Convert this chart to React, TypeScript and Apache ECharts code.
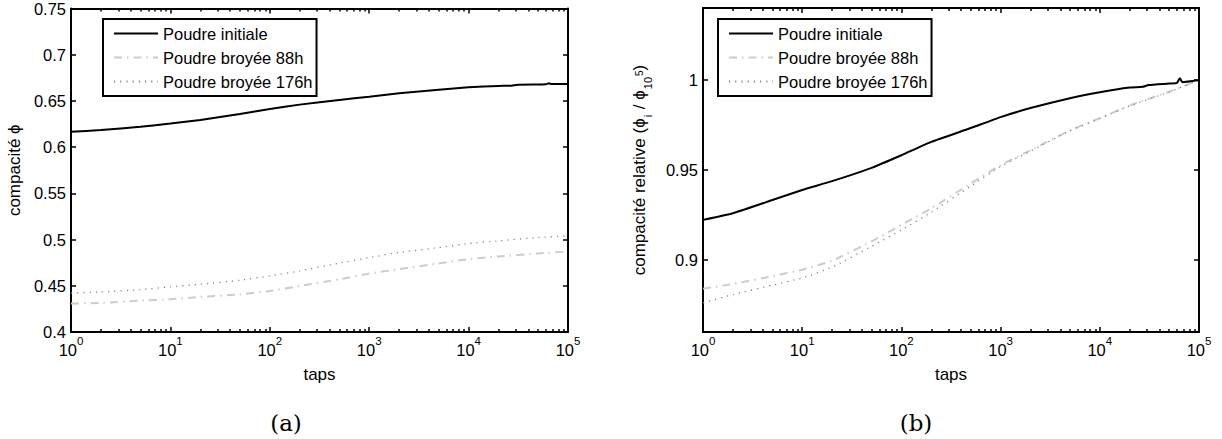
import React, { useEffect, useRef } from "react";
import * as echarts from "echarts";

const seriesNames = ["Poudre initiale", "Poudre broyée 88h", "Poudre broyée 176h"];

const tapsInit = [1, 2, 5, 10, 20, 50, 100, 200, 500, 1000, 2000, 5000, 10000, 20000, 27000, 31000, 50000, 60000, 64000, 68000, 100000];
const tapsMilled = [1, 2, 5, 10, 20, 50, 100, 200, 500, 1000, 2000, 5000, 10000, 20000, 50000, 100000];

// (a) compacité
const compInit = [0.6167, 0.6185, 0.6221, 0.6255, 0.6294, 0.6359, 0.6413, 0.646, 0.651, 0.6546, 0.6582, 0.6622, 0.6647, 0.6662, 0.6665, 0.6675, 0.6678, 0.668, 0.669, 0.6682, 0.6684];
const comp88 = [0.4307, 0.4315, 0.434, 0.4354, 0.4379, 0.4408, 0.4444, 0.4498, 0.4571, 0.4632, 0.468, 0.4742, 0.4788, 0.4818, 0.485, 0.487];
const comp176 = [0.4422, 0.4433, 0.4458, 0.4488, 0.4517, 0.456, 0.4607, 0.4661, 0.4745, 0.4805, 0.486, 0.4913, 0.4957, 0.4986, 0.5022, 0.504];

// (b) compacité relative
const relInit = [0.9223, 0.926, 0.9333, 0.9389, 0.9438, 0.9512, 0.9582, 0.9656, 0.9733, 0.9794, 0.9844, 0.9899, 0.9932, 0.9958, 0.9962, 0.9972, 0.998, 0.9984, 1.001, 0.9988, 1.0];
const rel88 = [0.8841, 0.8867, 0.891, 0.8946, 0.8996, 0.9103, 0.9195, 0.9287, 0.9425, 0.9527, 0.961, 0.972, 0.9788, 0.9858, 0.9935, 1.0];
const rel176 = [0.8762, 0.8808, 0.886, 0.89, 0.896, 0.9076, 0.9167, 0.9265, 0.941, 0.952, 0.9605, 0.9718, 0.9786, 0.9856, 0.9933, 1.0];

const yTicksRel = [0.9, 0.95, 1];

const FONT = "Liberation Sans";
const pair = (xs: number[], ys: number[]) => xs.map((x, i) => [x, ys[i]]);

export default function App() {
  const ref = useRef<HTMLDivElement>(null);
  useEffect(() => {
    if (!ref.current) return;
    const chart = echarts.init(ref.current, null, { renderer: "svg" });

    const axisLineStyle = { lineStyle: { color: "#000", width: 2 } };
    const xLabel = {
      formatter: (v: number) => `{b|10}{s|${Math.round(Math.log10(v))}}`,
      margin: 9,
      rich: {
        b: { fontSize: 16.5, fontFamily: FONT, color: "#000", lineHeight: 17, verticalAlign: "bottom" },
        s: { fontSize: 11.5, fontFamily: FONT, color: "#000", lineHeight: 12, padding: [0, 0, 11, 0], verticalAlign: "bottom" },
      },
    };
    const mkX = (gridIndex: number, bottom: boolean) => ({
      type: "log",
      logBase: 10,
      gridIndex,
      min: 1,
      max: 100000,
      position: bottom ? "bottom" : "top",
      axisLine: axisLineStyle,
      axisTick: { show: true, inside: true, length: 5, lineStyle: { color: "#000", width: 1.5 } },
      minorTick: { show: true, splitNumber: 9, length: 3, lineStyle: { color: "#000", width: 1.5 } },
      axisLabel: bottom ? xLabel : { show: false },
      splitLine: { show: false },
      minorSplitLine: { show: false },
      name: bottom ? "taps" : "",
      nameLocation: "middle",
      nameGap: 34,
      nameTextStyle: { fontSize: 17, fontFamily: FONT, color: "#000" },
    });

    const yLabelStyle = { fontSize: 16.5, fontFamily: FONT, color: "#000", margin: 5 };
    const mkY = (gridIndex: number, left: boolean, a: boolean) => {
      const base: any = {
        type: "value",
        gridIndex,
        position: left ? "left" : "right",
        axisLine: { show: true, ...axisLineStyle },
        splitLine: { show: false },
        axisTick: { show: true, inside: true, length: 5, lineStyle: { color: "#000", width: 1.5 } },
      };
      if (a) {
        base.min = 0.4;
        base.max = 0.75;
        base.interval = 0.05;
        base.axisLabel = left ? yLabelStyle : { show: false };
      } else {
        base.min = 0.86;
        base.max = 1.04;
        base.axisTick.customValues = yTicksRel;
        base.axisLabel = left ? { ...yLabelStyle, customValues: yTicksRel } : { show: false, customValues: yTicksRel };
      }
      if (left) {
        base.nameLocation = "middle";
        base.nameRotate = 90;
        if (a) {
          base.name = "compacité ϕ";
          base.nameGap = 48;
          base.nameTextStyle = { fontSize: 17, fontFamily: FONT, color: "#000" };
        } else {
          base.name = "{n|compacité relative (ϕ}{sub|i}{n| / ϕ}{sub|10}{sup|5}{n|)}";
          base.nameGap = 54;
          base.nameTextStyle = {
            fontSize: 17,
            fontFamily: FONT,
            color: "#000",
            rich: {
              n: { fontSize: 17, fontFamily: FONT, color: "#000", lineHeight: 18, verticalAlign: "top" },
              sub: { fontSize: 11, fontFamily: FONT, color: "#000", lineHeight: 11, padding: [11, 1, 0, 1], verticalAlign: "top" },
              sup: { fontSize: 10, fontFamily: FONT, color: "#000", lineHeight: 10, padding: [3, 0, 0, 0], verticalAlign: "top" },
            },
          };
        }
      }
      return base;
    };

    const styleInit = { color: "#000", width: 2, type: "solid" };
    const style88 = { color: "#cfccc8", width: 2, type: [8, 5, 1.5, 5] };
    const style176 = { color: "#858585", width: 1.3, type: [1.2, 5] };

    const mkSeries = (name: string, data: number[][], xi: number, yi: number, ls: any, z: number) => ({
      type: "line",
      name,
      data,
      xAxisIndex: xi,
      yAxisIndex: yi,
      symbol: "none",
      showSymbol: false,
      smooth: 0.15,
      lineStyle: ls,
      itemStyle: { color: ls.color },
      z,
    });

    const mkLegend = (left: number) => ({
      data: seriesNames,
      left,
      top: 19,
      orient: "vertical",
      itemWidth: 44,
      itemHeight: 14,
      itemGap: 7,
      padding: [6, 4, 6, 10],
      borderColor: "#000",
      borderWidth: 2,
      borderRadius: 0,
      backgroundColor: "#fff",
      selectedMode: false,
      itemStyle: { opacity: 0 },
      textStyle: { fontSize: 16.5, fontFamily: FONT, color: "#000" },
    });

    chart.setOption({
      animation: false,
      backgroundColor: "#fff",
      grid: [
        { left: 71, top: 8, width: 497, height: 324 },
        { left: 703, top: 8, width: 496, height: 324 },
      ],
      xAxis: [mkX(0, true), mkX(0, false), mkX(1, true), mkX(1, false)],
      yAxis: [mkY(0, true, true), mkY(0, false, true), mkY(1, true, false), mkY(1, false, false)],
      legend: [mkLegend(103), mkLegend(718)],
      series: [
        mkSeries(seriesNames[1], pair(tapsMilled, comp88), 0, 0, style88, 2),
        mkSeries(seriesNames[2], pair(tapsMilled, comp176), 0, 0, style176, 3),
        mkSeries(seriesNames[0], pair(tapsInit, compInit), 0, 0, styleInit, 4),
        mkSeries(seriesNames[1], pair(tapsMilled, rel88), 2, 2, style88, 2),
        mkSeries(seriesNames[2], pair(tapsMilled, rel176), 2, 2, style176, 3),
        mkSeries(seriesNames[0], pair(tapsInit, relInit), 2, 2, styleInit, 4),
      ],
      graphic: [
        { type: "text", x: 286, y: 423, style: { text: "(a)", fontSize: 23, fontFamily: "DejaVu Serif", fill: "#000", align: "center", verticalAlign: "middle" } },
        { type: "text", x: 916, y: 423, style: { text: "(b)", fontSize: 23, fontFamily: "DejaVu Serif", fill: "#000", align: "center", verticalAlign: "middle" } },
      ],
    });
    return () => chart.dispose();
  }, []);
  return <div ref={ref} style={{ position: "absolute", left: 0, top: 0, width: 1222, height: 439 }} />;
}
